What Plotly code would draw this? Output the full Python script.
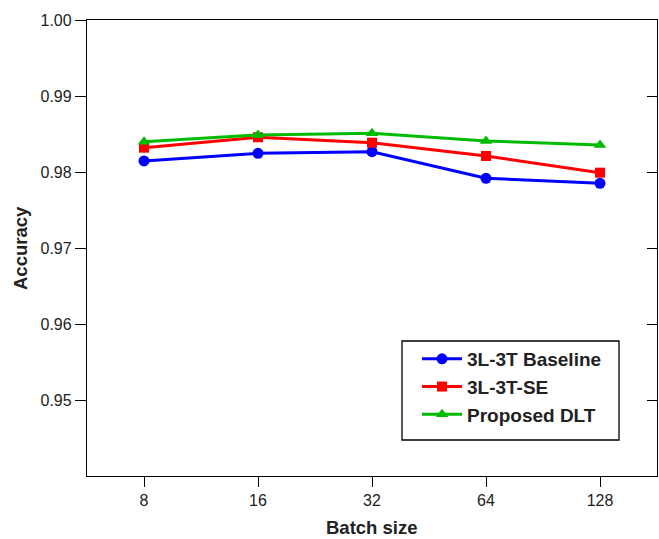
import plotly.graph_objects as go

batch_sizes = ["8", "16", "32", "64", "128"]
baseline = [0.98145, 0.98246, 0.98267, 0.97917, 0.97851]
se = [0.98320, 0.98457, 0.98386, 0.98211, 0.97991]
dlt = [0.98399, 0.98487, 0.98509, 0.98408, 0.98355]
y_ticks = [0.95, 0.96, 0.97, 0.98, 0.99, 1.00]
y_tick_text = ["0.95", "0.96", "0.97", "0.98", "0.99", "1.00"]

FONT = "Liberation Sans, Arial, sans-serif"

# plot area in pixels (for paper-coordinate placement of decorations)
L, R, T, B = 87, 657, 20, 476
def px(x):
    return (x - L) / (R - L)
def py(y):
    return (B - y) / (B - T)

fig = go.Figure()
fig.add_trace(go.Scatter(x=batch_sizes, y=baseline, mode="lines+markers", name="3L-3T Baseline",
                         line=dict(color="#0000FF", width=3),
                         marker=dict(symbol="circle", size=11, color="#0000FF")))
fig.add_trace(go.Scatter(x=batch_sizes, y=se, mode="lines+markers", name="3L-3T-SE",
                         line=dict(color="#FF0000", width=3),
                         marker=dict(symbol="square", size=10, color="#FF0000")))
fig.add_trace(go.Scatter(x=batch_sizes, y=dlt, mode="lines+markers", name="Proposed DLT",
                         line=dict(color="#00BB00", width=3),
                         marker=dict(symbol="triangle-up", size=11, color="#00BB00")))
# invisible trace on right axis for inward mirror ticks
fig.add_trace(go.Scatter(x=batch_sizes, y=dlt, yaxis="y2", mode="lines", showlegend=False,
                         line=dict(width=0), hoverinfo="skip", opacity=0))

fig.update_layout(
    width=659, height=539,
    margin=dict(l=L, r=659 - R, t=T, b=539 - B),
    paper_bgcolor="white", plot_bgcolor="white",
    font=dict(family=FONT, size=16, color="#222222"),
    showlegend=True,
    legend=dict(x=px(417), y=py(340), xanchor="left", yanchor="top",
                bgcolor="rgba(0,0,0,0)", borderwidth=0,
                font=dict(family=FONT, size=19, color="#222222", weight="bold"),
                tracegroupgap=0, itemwidth=40),
    shapes=[dict(type="rect", xref="paper", yref="paper",
                 x0=px(402), x1=px(619), y0=py(440), y1=py(341),
                 line=dict(color="black", width=1.3), fillcolor="white", layer="below")],
    xaxis=dict(type="category", range=[-0.5, 4.5], showgrid=False, zeroline=False,
               showline=True, linecolor="black", linewidth=1.3, mirror=True,
               ticks="outside", ticklen=10, tickcolor="black", tickwidth=1.3,
               tickfont=dict(size=16, color="#222222")),
    yaxis=dict(range=[0.94, 1.00], tickvals=y_ticks, ticktext=y_tick_text,
               showgrid=False, zeroline=False,
               showline=True, linecolor="black", linewidth=1.3, mirror=True,
               ticks="outside", ticklen=11, tickcolor="black", tickwidth=1.3,
               tickfont=dict(size=16, color="#222222")),
    yaxis2=dict(range=[0.94, 1.00], tickvals=y_ticks, overlaying="y", side="right",
                showticklabels=False, showgrid=False, zeroline=False, showline=False,
                ticks="inside", ticklen=10, tickcolor="black", tickwidth=1.3),
    annotations=[
        dict(text="<b>Accuracy</b>", xref="paper", yref="paper", x=px(20), y=0.5,
             textangle=-90, showarrow=False, xanchor="center", yanchor="middle",
             font=dict(family=FONT, size=18.5, color="#222222")),
        dict(text="<b>Batch size</b>", xref="paper", yref="paper", x=0.5, y=py(527),
             showarrow=False, xanchor="center", yanchor="middle",
             font=dict(family=FONT, size=18.5, color="#222222")),
    ],
)

fig.write_html("out.html")
